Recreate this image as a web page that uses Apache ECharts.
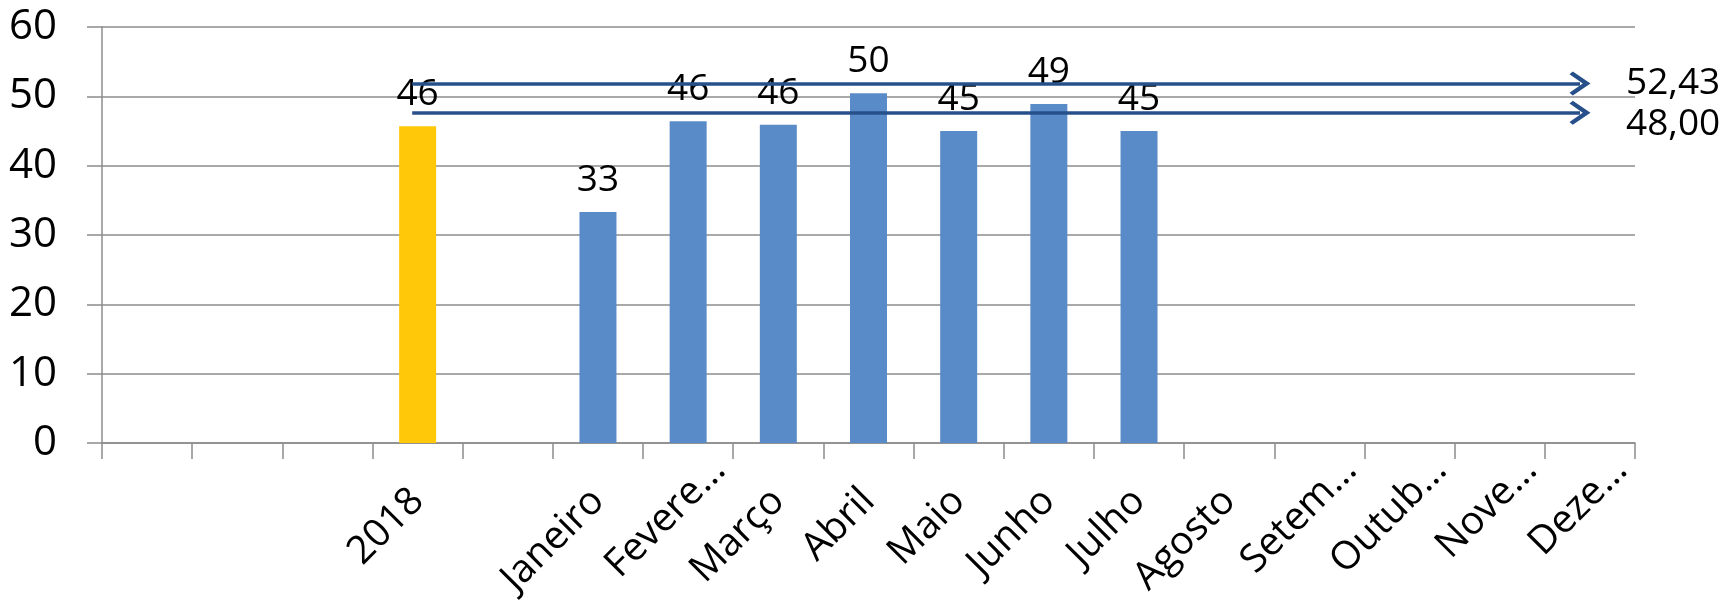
<!DOCTYPE html>
<html>
<head>
<meta charset="utf-8">
<script src="https://cdn.jsdelivr.net/npm/echarts@6/dist/echarts.min.js"></script>
<style>
  html, body { margin: 0; padding: 0; background: #ffffff; }
  #chart { width: 1719px; height: 601px; }
</style>
</head>
<body>
<div id="chart"></div>
<script>
// ---- data ----
const categories = ['', '', '', '2018', '', 'Janeiro', 'Fevere…', 'Março', 'Abril', 'Maio', 'Junho', 'Julho', 'Agosto', 'Setem…', 'Outub…', 'Nove…', 'Deze…'];
const yearValues  = [null, null, null, 45.7, null, null, null, null, null, null, null, null, null, null, null, null, null];
const monthValues = [null, null, null, null, null, 33.3, 46.4, 45.9, 50.45, 45.0, 48.9, 45.0, null, null, null, null, null];
const yTicks = [0, 10, 20, 30, 40, 50, 60];
const refLevels = [51.85, 47.62];
const refLabels = ['52,43', '48,00'];
const refSpan = [3.44, 16.39]; // in category units (start, end)

const FONT = '"Open Sans", "Noto Sans", sans-serif';
const GRAY = '#8c8c8c';
const ARROW = '#27508a';
const chevron = 'path://M11,0 L22,16 L19.5,19 L11,7 L2.5,19 L0,16 Z';

const chart = echarts.init(document.getElementById('chart'), null, { renderer: 'canvas' });

const labelCfg = {
  show: true,
  position: 'top',
  distance: 13,
  fontSize: 37,
  fontFamily: FONT,
  color: '#000',
  formatter: p => Math.round(p.value)
};

const markData = refLevels.map((lv, i) => [
  { coord: [refSpan[0], lv] },
  {
    coord: [refSpan[1], lv],
    label: {
      show: true,
      position: 'end',
      distance: 46,
      formatter: i === 1 ? '\n' + refLabels[i] : refLabels[i],
      lineHeight: 24,
      fontSize: 37,
      fontFamily: FONT,
      color: '#000'
    }
  }
]);

chart.setOption({
  animation: false,
  backgroundColor: '#ffffff',
  grid: { left: 102, right: 84, top: 27, bottom: 158, containLabel: false, outerBoundsMode: 'none' },
  xAxis: [
    {
      type: 'category',
      data: categories,
      boundaryGap: true,
      axisLine: { show: true, lineStyle: { color: GRAY, width: 1.5 } },
      axisTick: { show: true, length: 16, interval: 0, lineStyle: { color: GRAY, width: 1.5 } },
      axisLabel: {
        interval: 0,
        rotate: 45,
        margin: 52,
        fontSize: 39,
        fontFamily: FONT,
        color: '#000',
        formatter: v => (v.endsWith('…') ? '{t|' + v + '}' : v),
        rich: {
          t: { fontSize: 39, fontFamily: FONT, color: '#000', padding: [0, -44, 0, 0] }
        }
      },
      splitLine: { show: false }
    },
    {
      type: 'value',
      min: 0,
      max: categories.length,
      show: false,
      splitLine: { show: false }
    }
  ],
  yAxis: {
    type: 'value',
    min: yTicks[0],
    max: yTicks[yTicks.length - 1],
    interval: 10,
    axisLine: { show: true, lineStyle: { color: GRAY, width: 1.5 } },
    axisTick: { show: true, inside: false, length: 15, lineStyle: { color: GRAY, width: 1.5 } },
    axisLabel: {
      margin: 45,
      fontSize: 42,
      fontFamily: FONT,
      color: '#000'
    },
    splitLine: { show: true, lineStyle: { color: GRAY, width: 1.5 } }
  },
  series: [
    {
      name: '2018',
      type: 'bar',
      stack: 'all',
      barWidth: 37,
      data: yearValues,
      itemStyle: { color: '#ffc90a' },
      label: labelCfg
    },
    {
      name: 'Meses',
      type: 'bar',
      stack: 'all',
      barWidth: 37,
      data: monthValues,
      itemStyle: { color: '#5a8bc9' },
      label: labelCfg
    },
    {
      name: 'Referência',
      type: 'line',
      xAxisIndex: 1,
      data: [],
      silent: true,
      markLine: {
        silent: true,
        symbol: ['none', chevron],
        symbolSize: [24, 21],
        lineStyle: { color: ARROW, width: 3.5, type: 'solid' },
        itemStyle: { color: ARROW },
        emphasis: { disabled: true },
        data: markData
      }
    }
  ]
});
</script>
</body>
</html>
